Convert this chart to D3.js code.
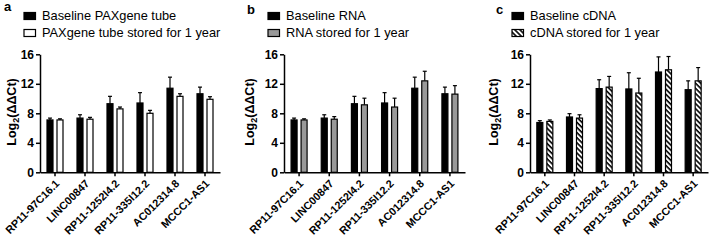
<!DOCTYPE html>
<html>
<head>
<meta charset="utf-8">
<script src="https://cdn.jsdelivr.net/npm/d3@7"></script>
<style>
  body { margin: 0; background: #fff; }
  svg { font-family: "Liberation Sans", Arial, sans-serif; }
</style>
</head>
<body>
<svg id="chart" width="709" height="242"></svg>
<script>
(() => {
  const genes = ["RP11-97C16.1", "LINC00847", "RP11-1252I4.2", "RP11-335I12.2", "AC012314.8", "MCCC1-AS1"];
  const yTicks = [0, 4, 8, 12, 16];

  // panel a
  const paxBase = [7.1, 7.35, 9.3, 9.4, 11.4, 10.65];
  const paxBaseSd = [0.25, 0.45, 1.0, 1.4, 1.5, 0.9];
  const paxStored = [7.1, 7.2, 8.6, 8.0, 10.3, 9.9];
  const paxStoredSd = [0.15, 0.25, 0.25, 0.4, 0.35, 0.35];
  // panel b
  const rnaBase = [7.1, 7.35, 9.3, 9.4, 11.4, 10.65];
  const rnaBaseSd = [0.25, 0.45, 1.0, 1.4, 1.5, 0.9];
  const rnaStored = [7.1, 7.2, 9.15, 8.85, 12.4, 10.6];
  const rnaStoredSd = [0.15, 0.35, 0.9, 1.2, 1.3, 1.15];
  // panel c
  const cdnaBase = [6.75, 7.5, 11.35, 11.3, 13.6, 11.2];
  const cdnaBaseSd = [0.25, 0.45, 1.2, 2.2, 2.05, 1.2];
  const cdnaStored = [6.9, 7.35, 11.55, 10.75, 13.9, 12.4];
  const cdnaStoredSd = [0.2, 0.45, 1.45, 2.0, 1.8, 1.8];

  const svg = d3.select("#chart");

  const defs = svg.append("defs");
  const pat = defs.append("pattern")
    .attr("id", "hatch")
    .attr("patternUnits", "userSpaceOnUse")
    .attr("width", 3.6)
    .attr("height", 10)
    .attr("patternTransform", "rotate(-45)");
  pat.append("rect").attr("width", 3.6).attr("height", 10).attr("fill", "#fff");
  pat.append("line")
    .attr("x1", 1).attr("x2", 1).attr("y1", 0).attr("y2", 10)
    .attr("stroke", "#000").attr("stroke-width", 1.6);

  const panels = [
    { letter: "a", lx: 4, ly: 11, legX: 23.5, ylabX: 12, x0: 40, x1: 220,
      names: ["Baseline PAXgene tube", "PAXgene tube stored for 1 year"],
      base: paxBase, baseSd: paxBaseSd, stored: paxStored, storedSd: paxStoredSd, fill: "#fff" },
    { letter: "b", lx: 247, ly: 14, legX: 267.5, ylabX: 250, x0: 284, x1: 465,
      names: ["Baseline RNA", "RNA stored for 1 year"],
      base: rnaBase, baseSd: rnaBaseSd, stored: rnaStored, storedSd: rnaStoredSd, fill: "#999" },
    { letter: "c", lx: 496, ly: 14, legX: 511.5, ylabX: 494, x0: 530, x1: 708,
      names: ["Baseline cDNA", "cDNA stored for 1 year"],
      base: cdnaBase, baseSd: cdnaBaseSd, stored: cdnaStored, storedSd: cdnaStoredSd, fill: "url(#hatch)" }
  ];

  const y = d3.scaleLinear().domain([0, 16]).range([172.3, 54.3]);

  panels.forEach(p => {
    const g = svg.append("g");

    g.append("text")
      .attr("x", p.lx).attr("y", p.ly)
      .attr("font-size", 13).attr("font-weight", "bold")
      .text(p.letter);

    // legend
    p.names.forEach((name, i) => {
      g.append("rect")
        .attr("x", p.legX + 0.5).attr("y", 12.5 + i * 17)
        .attr("width", 11.5).attr("height", 7)
        .attr("fill", i === 0 ? "#000" : p.fill)
        .attr("stroke", "#000").attr("stroke-width", 1.2);
      g.append("text")
        .attr("x", p.legX + 18.5).attr("y", 20 + i * 17)
        .attr("font-size", 12.8)
        .text(name);
    });

    const x = d3.scaleBand().domain(genes).range([p.x0, p.x1]);

    const barW = 7, gap = 3;
    const series = [
      { vals: p.base, sd: p.baseSd, fill: "#000", off: -gap / 2 - barW },
      { vals: p.stored, sd: p.storedSd, fill: p.fill, off: gap / 2 }
    ];

    series.forEach(s => {
      const cx = (d, i) => x(genes[i]) + x.bandwidth() / 2 + s.off;
      // error bars (upper only)
      g.selectAll(null)
        .data(s.vals)
        .join("line")
        .attr("x1", (d, i) => cx(d, i) + barW / 2)
        .attr("x2", (d, i) => cx(d, i) + barW / 2)
        .attr("y1", d => y(d))
        .attr("y2", (d, i) => y(d + s.sd[i]))
        .attr("stroke", "#000").attr("stroke-width", 1.2);
      g.selectAll(null)
        .data(s.vals)
        .join("line")
        .attr("x1", (d, i) => cx(d, i) + barW / 2 - 2)
        .attr("x2", (d, i) => cx(d, i) + barW / 2 + 2)
        .attr("y1", (d, i) => y(d + s.sd[i]))
        .attr("y2", (d, i) => y(d + s.sd[i]))
        .attr("stroke", "#000").attr("stroke-width", 1.2);
      g.selectAll(null)
        .data(s.vals)
        .join("rect")
        .attr("x", (d, i) => cx(d, i) + 0.5)
        .attr("y", d => y(d))
        .attr("width", barW - 1)
        .attr("height", d => y(0) - y(d))
        .attr("fill", s.fill)
        .attr("stroke", "#000").attr("stroke-width", 1.2);
    });

    // y axis
    const yAxis = g.append("g")
      .attr("transform", `translate(${p.x0},0)`)
      .call(d3.axisLeft(y).tickValues(yTicks).tickSize(4).tickPadding(2).tickSizeOuter(0));
    yAxis.select(".domain").attr("stroke-width", 1.5);
    yAxis.selectAll(".tick line").attr("stroke-width", 1.5);
    yAxis.selectAll("text")
      .attr("font-size", 12).attr("font-weight", "bold")
      .attr("font-family", "Liberation Sans, Arial, sans-serif").attr("fill", "#000");

    // x axis
    const xAxis = g.append("g")
      .attr("transform", `translate(0,${y(0)})`)
      .call(d3.axisBottom(x).tickSize(4).tickSizeOuter(0).tickPadding(2));
    xAxis.select(".domain").attr("stroke-width", 1.5);
    xAxis.selectAll(".tick line").attr("stroke-width", 1.5);
    xAxis.selectAll("text")
      .attr("font-size", 10.8)
      .attr("font-weight", "bold")
      .attr("font-family", "Liberation Sans, Arial, sans-serif")
      .attr("fill", "#000")
      .attr("text-anchor", "end")
      .attr("dy", "0")
      .attr("y", 0)
      .attr("transform", "translate(5,12) rotate(-45)");

    // y label
    g.append("text")
      .attr("transform", `translate(${p.ylabX},112) rotate(-90)`)
      .attr("text-anchor", "middle")
      .attr("font-size", 12.5)
      .attr("font-weight", "bold")
      .attr("dy", "0.35em")
      .html("Log<tspan font-size='9' dy='3'>2</tspan><tspan dy='-3'>(ΔΔCt)</tspan>");
  });
})();
</script>
</body>
</html>
